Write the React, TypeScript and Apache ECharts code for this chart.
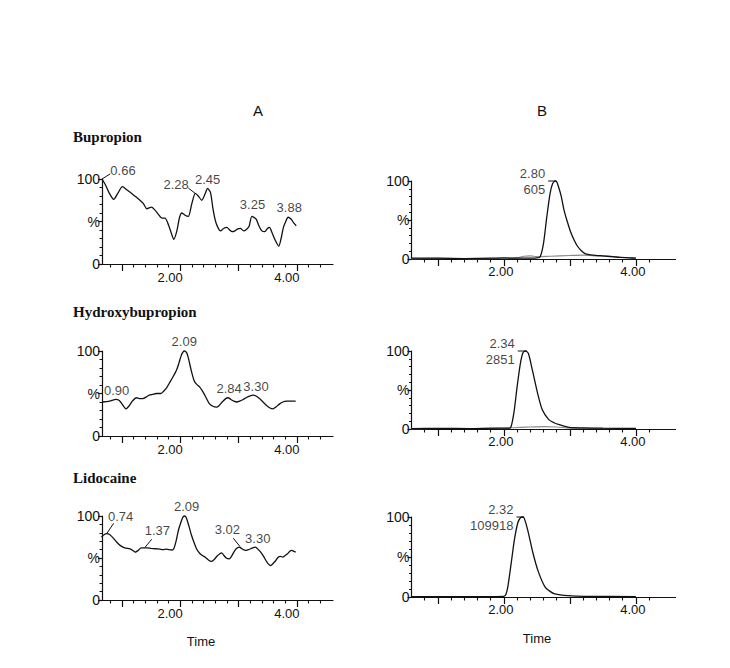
import React, { useEffect, useRef } from "react";
import * as echarts from "echarts";

// ---------- data ----------
const bupropionA = [[0.66,100],[0.72,93],[0.78,84],[0.86,76],[0.93,83],[1.01,91],[1.09,87],[1.17,83],[1.24,79],[1.31,75],[1.37,71],[1.43,65],[1.51,67],[1.56,64],[1.62,59],[1.69,54],[1.74,54],[1.8,46],[1.85,36],[1.89,29],[1.94,38],[1.99,55],[2.03,60],[2.09,57],[2.14,56],[2.2,71],[2.26,83],[2.31,80],[2.37,75],[2.43,83],[2.47,89],[2.52,84],[2.56,66],[2.6,52],[2.64,44],[2.69,39],[2.75,42],[2.8,43],[2.85,40],[2.89,38],[2.94,39],[2.98,41],[3.03,42],[3.09,39],[3.14,41],[3.18,44],[3.23,56],[3.3,53],[3.35,45],[3.4,39],[3.45,38],[3.5,42],[3.53,43],[3.58,36],[3.63,28],[3.69,21],[3.73,30],[3.77,43],[3.81,50],[3.85,55],[3.9,53],[3.95,48],[3.99,45]];
const hydroxyA = [[0.66,40],[0.79,41],[0.9,43],[0.95,42],[0.99,39],[1.07,32],[1.12,35],[1.18,41],[1.25,45],[1.3,44],[1.36,44],[1.42,46],[1.47,48],[1.53,49],[1.59,50],[1.67,50],[1.72,53],[1.77,57],[1.83,64],[1.88,70],[1.94,78],[1.98,86],[2.02,95],[2.07,100],[2.11,98],[2.14,92],[2.19,77],[2.24,65],[2.28,61],[2.33,58],[2.38,53],[2.43,47],[2.5,38],[2.56,35],[2.62,34],[2.67,36],[2.72,40],[2.78,44],[2.82,45],[2.87,43],[2.92,41],[2.97,40],[3.02,41],[3.08,43],[3.13,45],[3.19,47],[3.25,48],[3.3,47],[3.36,44],[3.42,40],[3.48,36],[3.54,33],[3.59,32],[3.64,34],[3.7,37.5],[3.76,40],[3.82,41],[3.9,41],[3.98,41]];
const lidocaineA = [[0.65,75],[0.7,78],[0.74,79],[0.79,78],[0.85,74],[0.91,69],[0.97,65],[1.05,62],[1.14,61],[1.19,59],[1.23,57],[1.28,59],[1.33,62],[1.37,62],[1.43,62],[1.5,61.5],[1.58,61],[1.65,60.5],[1.71,60],[1.76,60.5],[1.8,60],[1.86,59.5],[1.89,61],[1.93,70],[1.97,83],[2.01,92],[2.05,99],[2.08,100],[2.11,97],[2.15,88],[2.19,78],[2.23,70],[2.28,61],[2.33,56],[2.38,53],[2.43,51],[2.48,48],[2.53,46],[2.58,48],[2.63,52],[2.68,55],[2.71,56],[2.75,53],[2.79,50],[2.84,49],[2.88,52],[2.92,57],[2.96,61],[3.01,63],[3.06,61],[3.12,59],[3.17,60],[3.21,61],[3.29,63],[3.34,60],[3.38,57],[3.43,52],[3.47,47],[3.51,43],[3.55,41],[3.6,44],[3.64,47],[3.68,51],[3.72,52],[3.76,51],[3.8,53],[3.84,55],[3.88,58],[3.91,59],[3.95,58],[3.98,57]];

const bupropionB = [[0.6,1],[1.0,1],[1.4,0.6],[1.8,1],[2.0,1.4],[2.2,1],[2.4,1.2],[2.5,1.5],[2.55,3],[2.6,20],[2.65,54],[2.7,84],[2.74,97],[2.78,100],[2.8,99],[2.83,92],[2.87,80],[2.91,63],[2.96,48],[3.01,35],[3.06,25],[3.11,17],[3.17,11],[3.23,7],[3.35,5],[3.5,4],[3.65,3],[3.76,2],[3.9,1.5],[4.0,1]];
const bupropionBblank = [[0.6,0.5],[1.0,0.8],[1.5,0.5],[2.0,1],[2.2,1.5],[2.3,3.5],[2.4,4],[2.5,3],[2.7,3.5],[3.0,4.5],[3.2,5],[3.4,4],[3.6,3],[3.8,2],[4.0,1]];
const hydroxyB = [[0.6,0.5],[1.0,0.8],[1.5,0.5],[1.9,1],[2.05,1],[2.1,1.5],[2.15,20],[2.2,54],[2.25,84],[2.29,98],[2.33,100],[2.37,97],[2.43,76],[2.51,46],[2.58,25],[2.68,12],[2.76,8],[2.84,5.5],[2.99,2],[3.2,1.5],[3.5,1],[4.0,0.8]];
const hydroxyBblank = [[0.6,0.5],[1.2,0.6],[1.8,0.8],[2.0,1],[2.2,2],[2.4,2.5],[2.6,3],[2.8,2.5],[2.95,1.5],[3.2,0.8],[4.0,0.6]];
const lidocaineB = [[0.6,0.5],[1.0,0.5],[1.5,0.5],[2.0,0.8],[2.03,3],[2.06,13],[2.11,42],[2.16,72],[2.21,92.5],[2.25,99],[2.29,100],[2.31,98],[2.36,84],[2.44,55],[2.52,32],[2.62,13],[2.7,7],[2.77,4],[2.97,1.7],[3.23,0.8],[4.0,0.5]];

// peak annotations: text, x, y (bottom-centre of the text, data units)
const labelsA1 = [["0.66",1.02,102.5],["2.28",1.93,85.6],["2.45",2.47,91.5],["3.25",3.24,62],["3.88",3.87,59]];
const labelsA2 = [["0.90",0.91,45.6],["2.09",2.07,103.5],["2.84",2.84,48.8],["3.30",3.3,50.8]];
const labelsA3 = [["0.74",0.98,91.9],["1.37",1.61,74.8],["2.09",2.11,103.5],["3.02",2.81,76],["3.30",3.33,66]];
// leader lines: x1, y1, x2, y2
const leadersA1 = [[0.66,100,0.8,106],[2.14,89.4,2.255,83.2]];
const leadersA3 = [[0.74,79,0.86,91.3],[1.397,62.7,1.512,72.3],[2.912,73.5,3.027,63.5]];
// B peak labels: text, x, y (right-middle anchor) and leaders
const labelsB1 = [["2.80\n605",2.67,100]];
const labelsB2 = [["2.34\n2851",2.21,100]];
const labelsB3 = [["2.32\n109918",2.19,100]];
const leadersB1 = [[2.67,100,2.79,100]];
const leadersB2 = [[2.21,100,2.34,100]];
const leadersB3 = [[2.19,100,2.3,100]];

const xMajorTicks = [1, 2, 3, 4];
const xLabelTicks = [2, 4];
const xMinorTicksA = [0.8, 1.2, 1.4, 1.6, 1.8, 2.2, 2.4, 2.6, 2.8, 3.2, 3.4, 3.6, 3.8, 4.2, 4.4];
const xMinorTicksB = [0.8, 1.2, 1.4, 1.6, 1.8, 2.2, 2.4, 2.6, 2.8, 3.2, 3.4, 3.6, 3.8, 4.2];
const yTickLabels = ["0", "%", "100"];

const compounds = ["Bupropion", "Hydroxybupropion", "Lidocaine"];
const columns = ["A", "B"];

const FONT = '"Liberation Sans", Arial, Helvetica, sans-serif';
const INK = "#111";

const panels = [
  { col: "A", left: 102, top: 179, width: 231, height: 85, min: 0.66, max: 4.62, main: bupropionA, blank: null, labels: labelsA1, leaders: leadersA1 },
  { col: "B", left: 411.5, top: 181, width: 264, height: 78, min: 0.6, max: 4.6, main: bupropionB, blank: bupropionBblank, labels: labelsB1, leaders: leadersB1 },
  { col: "A", left: 102, top: 351, width: 231, height: 85, min: 0.66, max: 4.62, main: hydroxyA, blank: null, labels: labelsA2, leaders: [] },
  { col: "B", left: 411.5, top: 351, width: 264, height: 78, min: 0.6, max: 4.6, main: hydroxyB, blank: hydroxyBblank, labels: labelsB2, leaders: leadersB2 },
  { col: "A", left: 102, top: 516, width: 231, height: 84, min: 0.66, max: 4.62, main: lidocaineA, blank: null, labels: labelsA3, leaders: leadersA3 },
  { col: "B", left: 411.5, top: 517, width: 264, height: 80, min: 0.6, max: 4.6, main: lidocaineB, blank: null, labels: labelsB3, leaders: leadersB3 },
];

function buildOption() {
  const grid: any[] = [];
  const xAxis: any[] = [];
  const yAxis: any[] = [];
  const series: any[] = [];
  panels.forEach((p, i) => {
    const isA = p.col === "A";
    grid.push({ left: p.left, top: p.top, width: p.width, height: p.height });
    xAxis.push({
      type: "value", gridIndex: i, position: "bottom", min: p.min, max: p.max,
      axisLine: { show: true, onZero: false, lineStyle: { color: INK, width: 1.2 } },
      axisTick: { show: true, customValues: xMajorTicks, length: 7, lineStyle: { color: INK, width: 1.2 } },
      axisLabel: { show: true, customValues: xLabelTicks, formatter: (v: number) => v.toFixed(2), color: INK, fontSize: 13, fontFamily: FONT, margin: isA ? 7 : 6, padding: isA ? [0, 20, 0, 0] : [0, 6, 0, 0] },
      splitLine: { show: false },
    });
    xAxis.push({
      type: "value", gridIndex: i, position: "bottom", min: p.min, max: p.max,
      axisLine: { show: false },
      axisTick: { show: true, customValues: isA ? xMinorTicksA : xMinorTicksB, length: 3.5, lineStyle: { color: INK, width: 1.1 } },
      axisLabel: { show: false },
      splitLine: { show: false },
    });
    yAxis.push({
      type: "value", gridIndex: i, min: 0, max: 100, interval: 50,
      axisLine: { show: true, onZero: false, lineStyle: { color: INK, width: 1.2 } },
      axisTick: { show: true, length: 4, lineStyle: { color: INK, width: 1.2 } },
      minorTick: { show: true, splitNumber: 5, length: 2.5, lineStyle: { color: INK, width: 1 } },
      axisLabel: { formatter: (v: number) => yTickLabels[Math.round(v / 50)], color: INK, fontSize: 14, fontFamily: FONT, margin: 2 },
      splitLine: { show: false },
      minorSplitLine: { show: false },
    });
    const xi = 2 * i;
    if (p.blank) {
      series.push({ type: "line", xAxisIndex: xi, yAxisIndex: i, data: p.blank, symbol: "none", smooth: 0.3, clip: false, silent: true, lineStyle: { color: "#8a8a8a", width: 1.1 } });
    }
    series.push({ type: "line", xAxisIndex: xi, yAxisIndex: i, data: p.main, symbol: "none", smooth: 0.25, clip: false, silent: true, lineStyle: { color: INK, width: 1.3 } });
    p.leaders.forEach((l) => {
      series.push({ type: "line", xAxisIndex: xi, yAxisIndex: i, data: [[l[0], l[1]], [l[2], l[3]]], symbol: "none", clip: false, silent: true, lineStyle: { color: INK, width: 1 } });
    });
    series.push({
      type: "scatter", xAxisIndex: xi, yAxisIndex: i, symbolSize: 0, clip: false, silent: true,
      data: p.labels.map((l) => ({ name: l[0], value: [l[1], l[2]] })),
      label: isA
        ? { show: true, position: "top", distance: 0, formatter: "{b}", color: INK, fontSize: 13, fontFamily: FONT }
        : { show: true, position: "left", distance: 3, formatter: "{b}", color: INK, fontSize: 13, fontFamily: FONT, lineHeight: 16, align: "right" },
    });
  });

  const text = (t: string, x: number, y: number, font: string, align = "center") => ({
    type: "text", x, y, silent: true,
    style: { text: t, fill: INK, font, textAlign: align, align, textVerticalAlign: "middle", verticalAlign: "middle" },
  });

  const graphic = [
    text(columns[0], 258, 110, `15px ${FONT}`),
    text(columns[1], 542, 110, `15px ${FONT}`),
    text(compounds[0], 73, 137, 'bold 15px "Liberation Serif", "Times New Roman", serif', "left"),
    text(compounds[1], 73, 312, 'bold 15px "Liberation Serif", "Times New Roman", serif', "left"),
    text(compounds[2], 73, 478, 'bold 15px "Liberation Serif", "Times New Roman", serif', "left"),
    text("Time", 201, 641, `13px ${FONT}`),
    text("Time", 537, 638, `13px ${FONT}`),
  ];

  return { animation: false, backgroundColor: "#fff", grid, xAxis, yAxis, series, graphic };
}

export default function App() {
  const ref = useRef<HTMLDivElement>(null);
  useEffect(() => {
    if (!ref.current) return;
    const chart = echarts.init(ref.current, undefined, { renderer: "svg" });
    chart.setOption(buildOption() as any);
    return () => chart.dispose();
  }, []);
  return <div ref={ref} style={{ position: "fixed", left: 0, top: 0, width: 730, height: 668, background: "#fff" }} />;
}
